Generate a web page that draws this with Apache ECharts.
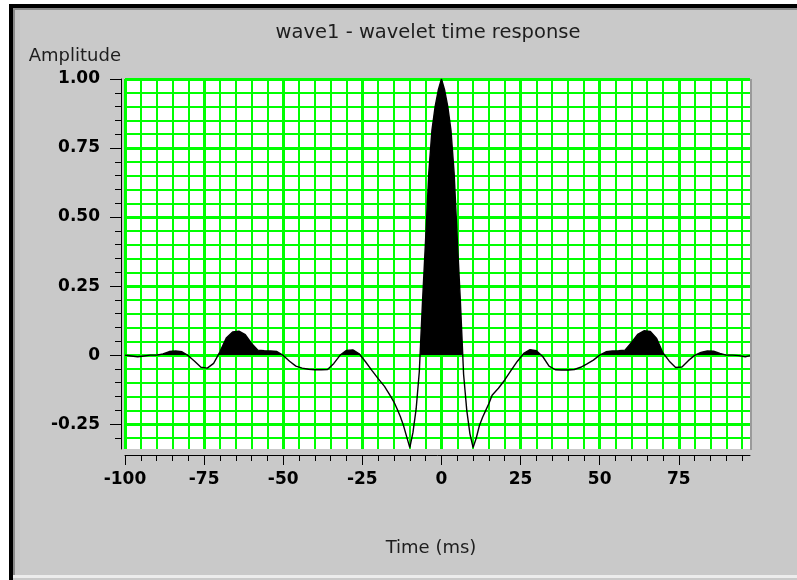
<!DOCTYPE html>
<html>
<head>
<meta charset="utf-8">
<script src="https://cdn.jsdelivr.net/npm/echarts@6/dist/echarts.min.js"></script>
<style>
  html, body { margin: 0; padding: 0; background: #ffffff; }
  #chart { width: 797px; height: 580px; }
</style>
</head>
<body>
<div id="chart"></div>
<script>
// Wavelet samples: time (ms) and normalised amplitude
const timeMs = [
  -100, -98, -96, -94, -92, -90, -88, -86, -84, -82,
  -80, -78, -76, -74, -72, -70, -68, -66, -64, -62,
  -60, -58, -56, -54, -52, -50, -48, -46, -44, -42,
  -40, -38, -36, -34, -32, -30, -28, -26, -24, -22,
  -20, -18, -16, -15, -14, -13, -12, -11, -10, -9,
  -8, -7, -6, -5, -4, -3, -2, -1, 0, 1,
  2, 3, 4, 5, 6, 7, 8, 9, 10, 11,
  12, 13, 14, 15, 16, 18, 20, 22, 24, 26,
  28, 30, 32, 34, 36, 38, 40, 42, 44, 46,
  48, 50, 52, 54, 56, 58, 60, 62, 64, 66,
  68, 70, 72, 74, 76, 78, 80, 82, 84, 86,
  88, 90, 92, 94, 96, 97.5
];
const amplitude = [
  0.000, -0.003, -0.006, -0.003, 0.000, 0.000, 0.004, 0.013, 0.015, 0.012,
  -0.002, -0.022, -0.044, -0.047, -0.030, 0.012, 0.062, 0.084, 0.087, 0.074,
  0.042, 0.018, 0.016, 0.015, 0.013, -0.001, -0.022, -0.040, -0.047, -0.051,
  -0.053, -0.053, -0.052, -0.030, 0.000, 0.017, 0.019, 0.005, -0.024, -0.055,
  -0.085, -0.113, -0.150, -0.170, -0.195, -0.222, -0.255, -0.295, -0.335, -0.280,
  -0.195, -0.060, 0.190, 0.420, 0.660, 0.815, 0.900, 0.960, 1.000, 0.960,
  0.900, 0.815, 0.660, 0.420, 0.190, -0.070, -0.200, -0.285, -0.335, -0.300,
  -0.255, -0.225, -0.200, -0.175, -0.145, -0.120, -0.090, -0.055, -0.022, 0.006,
  0.020, 0.016, -0.005, -0.040, -0.053, -0.054, -0.054, -0.052, -0.044, -0.032,
  -0.018, 0.000, 0.012, 0.015, 0.016, 0.018, 0.045, 0.075, 0.088, 0.086,
  0.060, 0.008, -0.022, -0.045, -0.043, -0.020, -0.001, 0.010, 0.015, 0.014,
  0.006, 0.000, 0.000, -0.002, -0.006, -0.002
];

// Axis ticks
const majorTimeTicks = [-100, -75, -50, -25, 0, 25, 50, 75];
const majorAmpTicks = [-0.25, 0, 0.25, 0.5, 0.75, 1.0];
const timeRange = [-100, 97.5];
const ampRange = [-0.34, 1.0];

// Fine grid: every 5 ms and every 0.05 amplitude
const minorTimeTicks = [];
for (let t = -100; t <= 95; t += 5) minorTimeTicks.push(t);
const minorAmpTicks = [];
for (let k = -6; k <= 20; k++) minorAmpTicks.push(Math.round(k * 5) / 100);

const points = timeMs.map((t, i) => [t, amplitude[i]]);

const GREEN = '#00ff00';
const gridRect = { left: 125, top: 79, width: 625, height: 370 };
const tickFont = { fontFamily: 'DejaVu Sans', fontWeight: 'bold', fontSize: 17, color: '#000' };

const chart = echarts.init(document.getElementById('chart'), null, { renderer: 'canvas' });

chart.setOption({
  animation: false,
  backgroundColor: '#ffffff',
  title: {
    text: 'wave1 - wavelet time response',
    left: 423,
    textAlign: 'center',
    top: 18,
    textStyle: { fontFamily: 'DejaVu Sans', fontWeight: 'normal', fontSize: 19.5, color: '#1e1e1e' }
  },
  graphic: [
    // panel
    { type: 'rect', z: -10, shape: { x: 9, y: 4, width: 788, height: 576 }, style: { fill: '#c9c9c9' } },
    { type: 'rect', z: -9, shape: { x: 9, y: 4, width: 788, height: 4 }, style: { fill: '#000' } },
    { type: 'rect', z: -9, shape: { x: 9, y: 4, width: 4, height: 576 }, style: { fill: '#000' } },
    { type: 'rect', z: -9, shape: { x: 13, y: 8, width: 784, height: 2 }, style: { fill: '#8a8a8a' } },
    { type: 'rect', z: -9, shape: { x: 13, y: 8, width: 2, height: 570 }, style: { fill: '#8a8a8a' } },
    { type: 'rect', z: -9, shape: { x: 13, y: 575, width: 784, height: 3 }, style: { fill: '#ececec' } },
    // right edge of the plot frame
    { type: 'rect', z: 5, shape: { x: 750, y: 79, width: 2, height: 371 }, style: { fill: '#9a9a9a' } }
  ],
  grid: [
    Object.assign({ show: true, backgroundColor: '#ffffff', borderWidth: 0 }, gridRect),
    Object.assign({ show: false }, gridRect)
  ],
  xAxis: [
    {
      type: 'value', gridIndex: 0, min: timeRange[0], max: timeRange[1],
      position: 'bottom', offset: 6,
      name: 'Time (ms)', nameLocation: 'middle', nameGap: 84,
      nameTextStyle: { fontFamily: 'DejaVu Sans', fontSize: 18, color: '#1e1e1e', padding: [0, 13, 0, 0] },
      axisLine: { show: true, onZero: false, lineStyle: { color: '#000', width: 1 } },
      axisTick: { show: true, length: 10, customValues: majorTimeTicks, lineStyle: { color: '#000' } },
      axisLabel: Object.assign({ show: true, margin: 16, customValues: majorTimeTicks }, tickFont),
      splitLine: { show: true, lineStyle: { color: GREEN, width: 3 } }
    },
    {
      type: 'value', gridIndex: 1, min: timeRange[0], max: timeRange[1],
      position: 'bottom', offset: 6,
      axisLine: { show: false, onZero: false },
      axisTick: { show: true, length: 6, customValues: minorTimeTicks, lineStyle: { color: '#000' } },
      axisLabel: { show: false, customValues: minorTimeTicks },
      splitLine: { show: true, lineStyle: { color: GREEN, width: 2 } }
    }
  ],
  yAxis: [
    {
      type: 'value', gridIndex: 0, min: ampRange[0], max: ampRange[1],
      position: 'left', offset: 4,
      name: 'Amplitude', nameLocation: 'end', nameGap: 14,
      nameTextStyle: { fontFamily: 'DejaVu Sans', fontSize: 18, color: '#1e1e1e', align: 'right' },
      axisLine: { show: true, onZero: false, lineStyle: { color: '#000', width: 1 } },
      axisTick: { show: true, length: 11, customValues: majorAmpTicks, lineStyle: { color: '#000' } },
      axisLabel: Object.assign({
        show: true, margin: 21, customValues: majorAmpTicks,
        formatter: v => (v === 0 ? '0' : v.toFixed(2))
      }, tickFont),
      splitLine: { show: true, lineStyle: { color: GREEN, width: 3 } }
    },
    {
      type: 'value', gridIndex: 1, min: ampRange[0], max: ampRange[1],
      position: 'left', offset: 4,
      axisLine: { show: false, onZero: false },
      axisTick: { show: true, length: 6, customValues: minorAmpTicks, lineStyle: { color: '#000' } },
      axisLabel: { show: false, customValues: minorAmpTicks },
      splitLine: { show: true, lineStyle: { color: GREEN, width: 2 } }
    }
  ],
  visualMap: {
    type: 'piecewise', show: false, seriesIndex: 0, dimension: 1,
    pieces: [
      { gte: -2, lt: 0, color: 'rgba(0,0,0,0)' },
      { gte: 0, lte: 2, color: '#000000' }
    ]
  },
  series: [
    {
      // positive lobes filled black
      type: 'line', xAxisIndex: 0, yAxisIndex: 0, data: points,
      showSymbol: false, silent: true, z: 3,
      lineStyle: { width: 0 },
      areaStyle: { opacity: 1 }
    },
    {
      type: 'line', xAxisIndex: 0, yAxisIndex: 0, data: points,
      showSymbol: false, silent: true, z: 4,
      lineStyle: { color: '#000', width: 1.4 },
      itemStyle: { color: '#000' }
    }
  ]
});
</script>
</body>
</html>
